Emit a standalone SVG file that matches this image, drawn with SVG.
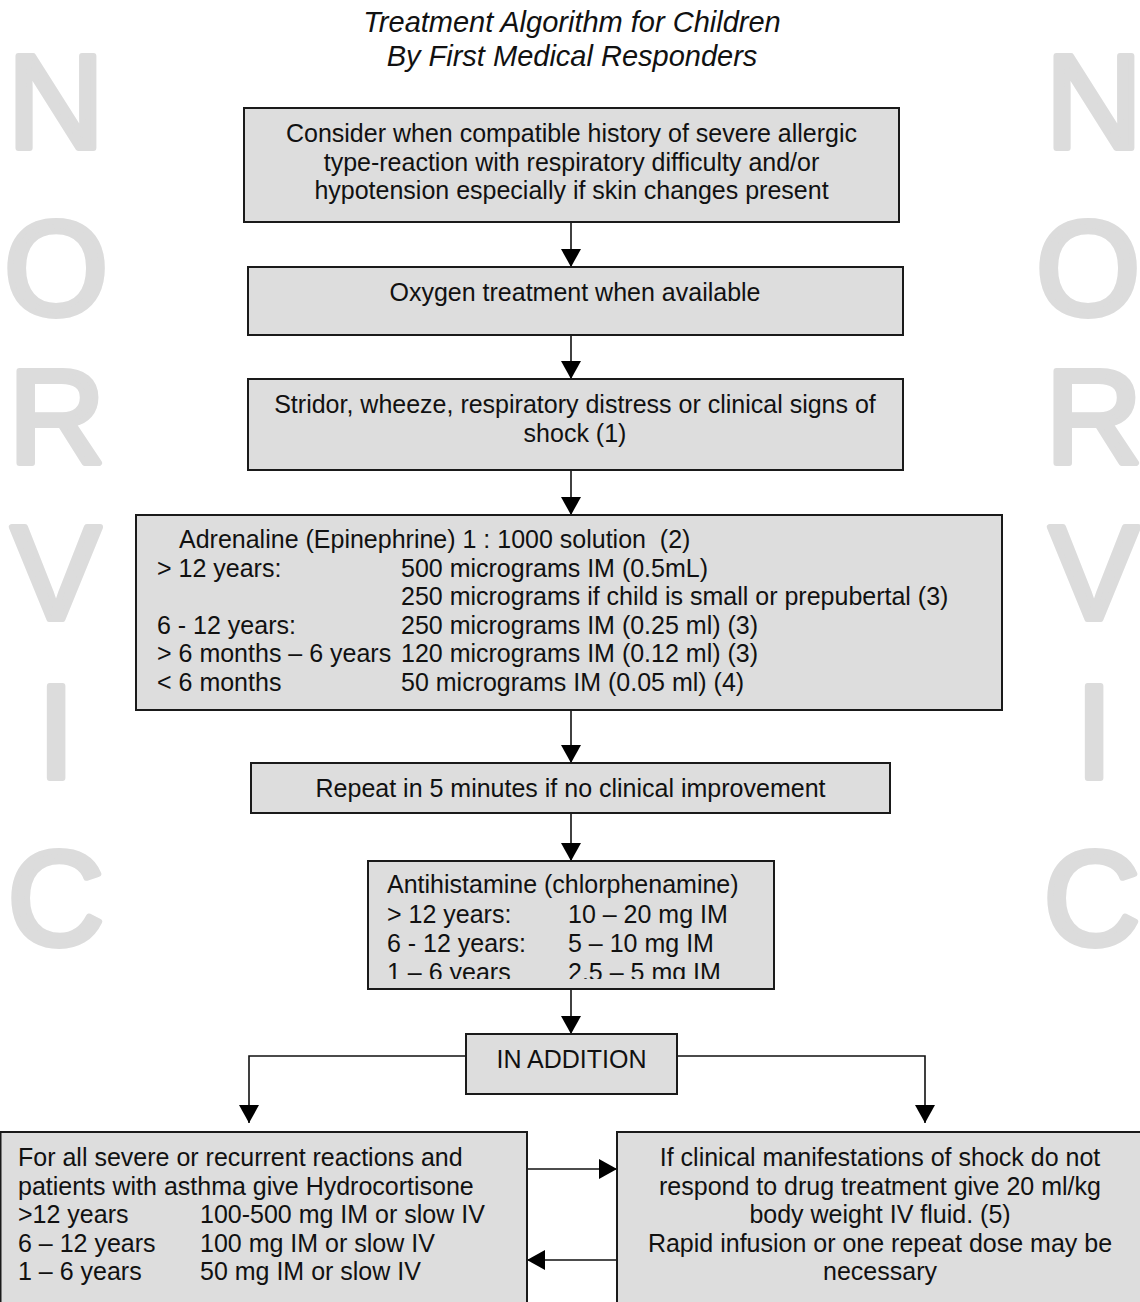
<svg xmlns="http://www.w3.org/2000/svg" width="1140" height="1302" viewBox="0 0 1140 1302">
<style>
.wm{font-family:"Liberation Sans",Arial,sans-serif;font-weight:normal;font-size:134px;fill:#dcdcdc;stroke:#dcdcdc;stroke-width:6;stroke-linejoin:round;stroke-linecap:round;text-anchor:middle}
.title{font-family:"Liberation Sans",Arial,sans-serif;font-style:italic;font-size:29px;fill:#111;text-anchor:middle}
.box{fill:#dddddd;stroke:#1a1a1a;stroke-width:2}
.t{font-family:"Liberation Sans",Arial,sans-serif;font-size:25px;fill:#111}
.c{text-anchor:middle}
.ln{fill:none;stroke:#111;stroke-width:1.6}
</style>
<defs>
<marker id="ah" markerUnits="userSpaceOnUse" markerWidth="20" markerHeight="20" refX="18" refY="10" orient="auto">
<path d="M0,0 L18,10 L0,20 Z" fill="#000"/>
</marker>
<clipPath id="clip6"><rect x="368" y="861" width="406" height="118"/></clipPath>
</defs>

<g id="watermark">
<text class="wm" x="56" y="148">N</text>
<text class="wm" x="56" y="315">O</text>
<text class="wm" x="57" y="463">R</text>
<text class="wm" x="56" y="619">V</text>
<text class="wm" x="56" y="778">I</text>
<text class="wm" x="56" y="945">C</text>
<text class="wm" x="1094" y="148">N</text>
<text class="wm" x="1088" y="315">O</text>
<text class="wm" x="1094" y="463">R</text>
<text class="wm" x="1094" y="619">V</text>
<text class="wm" x="1094" y="778">I</text>
<text class="wm" x="1092" y="945">C</text>
</g>

<g id="title">
<text class="title" x="572" y="32">Treatment Algorithm for Children</text>
<text class="title" x="572" y="66">By First Medical Responders</text>
</g>

<g id="connectors">
<line class="ln" x1="571" y1="222" x2="571" y2="267" marker-end="url(#ah)"/>
<line class="ln" x1="571" y1="335" x2="571" y2="379" marker-end="url(#ah)"/>
<line class="ln" x1="571" y1="470" x2="571" y2="515" marker-end="url(#ah)"/>
<line class="ln" x1="571" y1="710" x2="571" y2="763" marker-end="url(#ah)"/>
<line class="ln" x1="571" y1="813" x2="571" y2="861" marker-end="url(#ah)"/>
<line class="ln" x1="571" y1="989" x2="571" y2="1034" marker-end="url(#ah)"/>
<polyline class="ln" points="466,1056 249,1056 249,1123" marker-end="url(#ah)"/>
<polyline class="ln" points="677,1056 925,1056 925,1123" marker-end="url(#ah)"/>
<line class="ln" x1="527" y1="1169" x2="617" y2="1169" marker-end="url(#ah)"/>
<line class="ln" x1="617" y1="1260" x2="527" y2="1260" marker-end="url(#ah)"/>
</g>

<g id="n1">
<rect class="box" x="244" y="108" width="655" height="114"/>
<text class="t c" x="571.5" y="142">Consider when compatible history of severe allergic</text>
<text class="t c" x="571.5" y="171">type-reaction with respiratory difficulty and/or</text>
<text class="t c" x="571.5" y="199">hypotension especially if skin changes present</text>
</g>

<g id="n2">
<rect class="box" x="248" y="267" width="655" height="68"/>
<text class="t c" x="575" y="301">Oxygen treatment when available</text>
</g>

<g id="n3">
<rect class="box" x="248" y="379" width="655" height="91"/>
<text class="t c" x="575" y="413">Stridor, wheeze, respiratory distress or clinical signs of</text>
<text class="t c" x="575" y="442">shock (1)</text>
</g>

<g id="n4">
<rect class="box" x="136" y="515" width="866" height="195"/>
<text class="t" x="179" y="548" xml:space="preserve">Adrenaline (Epinephrine) 1 : 1000 solution  (2)</text>
<text class="t" x="157" y="577">&gt; 12 years:</text>
<text class="t" x="401" y="577">500 micrograms IM (0.5mL)</text>
<text class="t" x="401" y="605">250 micrograms if child is small or prepubertal (3)</text>
<text class="t" x="157" y="634">6 - 12 years:</text>
<text class="t" x="401" y="634">250 micrograms IM (0.25 ml) (3)</text>
<text class="t" x="157" y="662">&gt; 6 months – 6 years</text>
<text class="t" x="401" y="662">120 micrograms IM (0.12 ml) (3)</text>
<text class="t" x="157" y="691">&lt; 6 months</text>
<text class="t" x="401" y="691">50 micrograms IM (0.05 ml) (4)</text>
</g>

<g id="n5">
<rect class="box" x="251" y="763" width="639" height="50"/>
<text class="t c" x="570.5" y="797">Repeat in 5 minutes if no clinical improvement</text>
</g>

<g id="n6">
<rect class="box" x="368" y="861" width="406" height="128"/>
<g clip-path="url(#clip6)">
<text class="t" x="387" y="893">Antihistamine (chlorphenamine)</text>
<text class="t" x="387" y="923">&gt; 12 years:</text>
<text class="t" x="568" y="923">10 – 20 mg IM</text>
<text class="t" x="387" y="952">6 - 12 years:</text>
<text class="t" x="568" y="952">5 – 10 mg IM</text>
<text class="t" x="387" y="981">1 – 6 years</text>
<text class="t" x="568" y="981">2.5 – 5 mg IM</text>
</g>
</g>

<g id="n7">
<rect class="box" x="466" y="1034" width="211" height="60"/>
<text class="t c" x="571.5" y="1068">IN ADDITION</text>
</g>

<g id="n8">
<rect class="box" x="0.5" y="1132" width="526.5" height="190"/>
<text class="t" x="18" y="1166">For all severe or recurrent reactions and</text>
<text class="t" x="18" y="1195">patients with asthma give Hydrocortisone</text>
<text class="t" x="18" y="1223">&gt;12 years</text>
<text class="t" x="200" y="1223">100-500 mg IM or slow IV</text>
<text class="t" x="18" y="1252">6 – 12 years</text>
<text class="t" x="200" y="1252">100 mg IM or slow IV</text>
<text class="t" x="18" y="1280">1 – 6 years</text>
<text class="t" x="200" y="1280">50 mg IM or slow IV</text>
</g>

<g id="n9">
<rect class="box" x="617" y="1132" width="530" height="190"/>
<text class="t c" x="880" y="1166">If clinical manifestations of shock do not</text>
<text class="t c" x="880" y="1195">respond to drug treatment give 20 ml/kg</text>
<text class="t c" x="880" y="1223">body weight IV fluid. (5)</text>
<text class="t c" x="880" y="1252">Rapid infusion or one repeat dose may be</text>
<text class="t c" x="880" y="1280">necessary</text>
</g>
</svg>
